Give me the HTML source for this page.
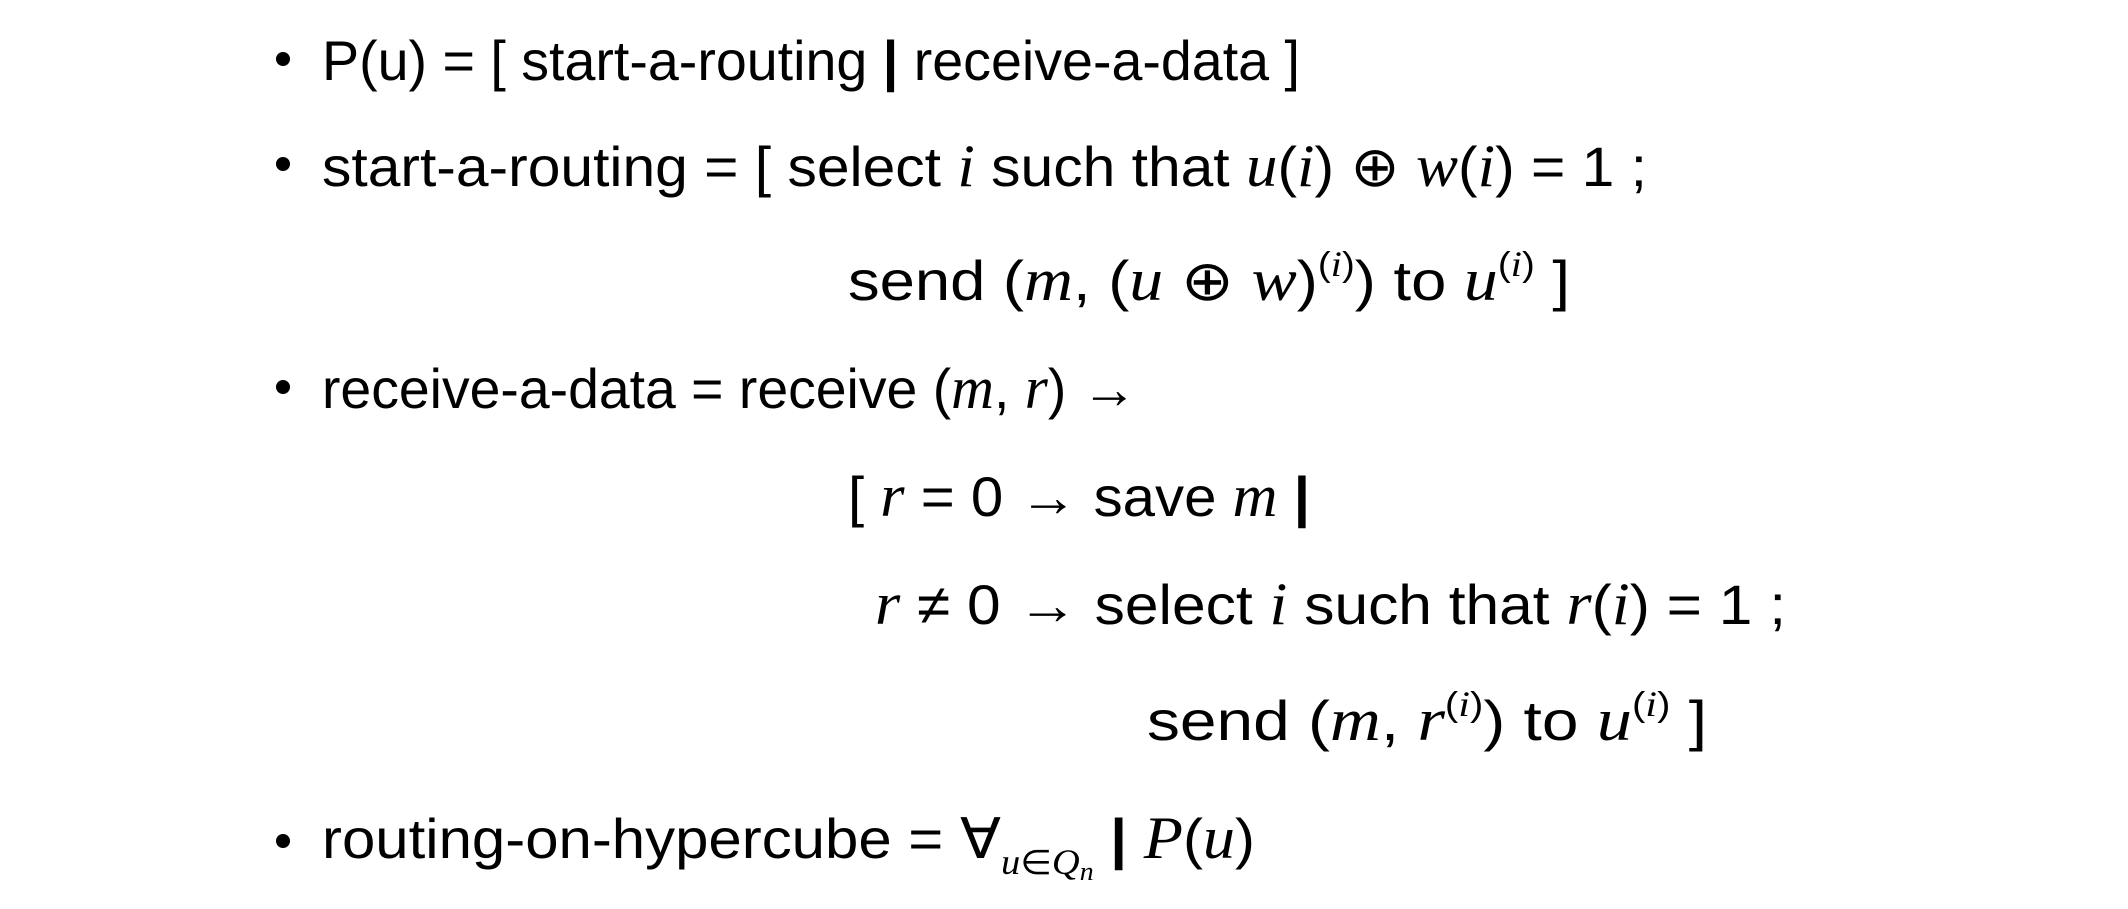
<!DOCTYPE html>
<html><head><meta charset="utf-8"><style>
html,body{margin:0;padding:0;background:#fff;}
svg{display:block}
text{font-family:"Liberation Sans",sans-serif;font-size:56px;fill:#000}
.m{font-family:"Liberation Serif",serif;font-style:italic;font-size:60px}
.s{font-size:34px}
.s .m,.m.s{font-size:36px}
</style></head><body>
<svg width="2128" height="909" viewBox="0 0 2128 909" xmlns="http://www.w3.org/2000/svg">
<g fill="#000">
<circle cx="283" cy="59" r="7"/>
<circle cx="283" cy="164" r="7"/>
<circle cx="283" cy="387" r="7"/>
<circle cx="283" cy="841" r="7"/>
</g>
<text x="322" y="80" textLength="978" lengthAdjust="spacingAndGlyphs">P(u) = [ start-a-routing <tspan font-weight="bold">|</tspan> receive-a-data ]</text>
<text x="322" y="186" textLength="1325" lengthAdjust="spacingAndGlyphs">start-a-routing = [ select <tspan class="m">i</tspan> such that <tspan class="m">u</tspan>(<tspan class="m">i</tspan>) ⊕ <tspan class="m">w</tspan>(<tspan class="m">i</tspan>) = 1 ;</text>
<text x="848" y="300" textLength="722" lengthAdjust="spacingAndGlyphs">send (<tspan class="m">m</tspan>, (<tspan class="m">u</tspan> ⊕ <tspan class="m">w</tspan>)<tspan class="s" dy="-24">(<tspan class="m">i</tspan>)</tspan><tspan dy="24">) to </tspan><tspan class="m">u</tspan><tspan class="s" dy="-24">(<tspan class="m">i</tspan>)</tspan><tspan dy="24"> ]</tspan></text>
<text x="322" y="408" textLength="815" lengthAdjust="spacingAndGlyphs">receive-a-data = receive (<tspan class="m">m</tspan>, <tspan class="m">r</tspan>) →</text>
<text x="848" y="516" textLength="462" lengthAdjust="spacingAndGlyphs">[ <tspan class="m">r</tspan> = 0 → save <tspan class="m">m</tspan> <tspan font-weight="bold">|</tspan></text>
<text x="875" y="624" textLength="911" lengthAdjust="spacingAndGlyphs"><tspan class="m">r</tspan> ≠ 0 →  select <tspan class="m">i</tspan> such that <tspan class="m">r</tspan>(<tspan class="m">i</tspan>) = 1 ;</text>
<text x="1147" y="740" textLength="560" lengthAdjust="spacingAndGlyphs">send (<tspan class="m">m</tspan>, <tspan class="m">r</tspan><tspan class="s" dy="-24">(<tspan class="m">i</tspan>)</tspan><tspan dy="24">) to </tspan><tspan class="m">u</tspan><tspan class="s" dy="-24">(<tspan class="m">i</tspan>)</tspan><tspan dy="24">    ]</tspan></text>
<text x="322" y="858" textLength="933" lengthAdjust="spacingAndGlyphs">routing-on-hypercube =  ∀<tspan class="s m" dy="16">u</tspan><tspan class="s">∈</tspan><tspan class="s m">Q</tspan><tspan class="m" style="font-size:26px" dy="6">n</tspan><tspan dy="-22"> <tspan font-weight="bold">|</tspan> </tspan><tspan class="m">P</tspan>(<tspan class="m">u</tspan>)</text>
</svg>
</body></html>
